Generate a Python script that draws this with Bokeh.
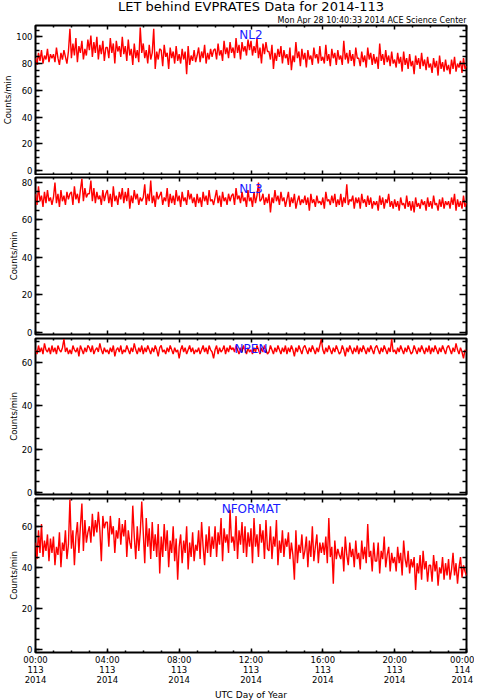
import numpy as np
from bokeh.plotting import figure
from bokeh.models import LinearAxis, FixedTicker, Label, Range1d
from bokeh.layouts import column
from bokeh.embed import file_html
from bokeh.resources import INLINE

title_text = "LET behind EVPRATES Data for 2014-113"
subtitle_text = "Mon Apr 28 10:40:33 2014 ACE Science Center"
y_label = "Counts/min"
x_label = "UTC Day of Year"
panel_names = ["NL2", "NL3", "NPEN", "NFORMAT"]
hour_ticks = [0, 4, 8, 12, 16, 20, 24]
hour_minor_ticks = [h for h in range(25) if h % 4]
hour_tick_labels = ["00:00\n113\n2014", "04:00\n113\n2014", "08:00\n113\n2014",
                    "12:00\n113\n2014", "16:00\n113\n2014", "20:00\n113\n2014",
                    "00:00\n114\n2014"]
count_ticks = [0, 20, 40, 60, 80, 100]
count_minor_ticks = [c for c in range(0, 111, 5) if c % 20]
samples_per_hour = 12

nl2 = [
    84, 79, 88, 82, 90, 80, 86, 83, 91, 81, 87, 84,
    87, 81, 92, 84, 79, 88, 83, 90, 85, 80, 89, 106,
    84, 95, 86, 99, 81, 93, 88, 97, 83, 91, 86, 98,
    90, 101, 85, 96, 88, 100, 83, 94, 87, 97, 82, 92,
    92, 84, 99, 88, 95, 80, 97, 89, 93, 85, 100, 87,
    93, 82, 98, 86, 91, 79, 95, 84, 90, 81, 107, 88,
    95, 84, 90, 80, 94, 83, 88, 106, 76, 89, 83, 91,
    90, 78, 94, 85, 88, 76, 92, 84, 89, 80, 93, 82,
    87, 80, 91, 83, 89, 72, 93, 79, 86, 82, 90, 81,
    86, 92, 81, 89, 84, 94, 80, 88, 83, 91, 85, 90,
    91, 83, 95, 86, 90, 82, 97, 87, 92, 84, 96, 88,
    92, 84, 99, 88, 94, 83, 96, 89, 93, 86, 98, 90,
    97, 86, 93, 88, 99, 84, 92, 80, 95, 87, 96, 89,
    89, 83, 94, 76, 88, 82, 91, 85, 93, 80, 90, 84,
    87, 79, 92, 75, 86, 81, 96, 84, 89, 78, 91, 83,
    88, 77, 90, 83, 86, 79, 92, 84, 87, 80, 93, 82,
    85, 80, 94, 82, 87, 78, 91, 84, 88, 79, 90, 83,
    86, 79, 97, 83, 88, 80, 90, 82, 87, 78, 92, 84,
    84, 78, 89, 81, 86, 77, 92, 83, 88, 79, 87, 80,
    85, 76, 95, 82, 87, 79, 90, 81, 86, 78, 89, 80,
    83, 77, 88, 80, 85, 74, 89, 79, 84, 76, 87, 78,
    82, 72, 86, 79, 84, 76, 88, 78, 83, 75, 85, 77,
    80, 73, 84, 77, 82, 71, 86, 76, 81, 74, 83, 75,
    79, 72, 83, 76, 85, 74, 80, 77, 82, 73, 84, 76,
    78,
]

nl3 = [
    74, 68, 78, 70, 73, 67, 75, 69, 76, 70, 72, 68,
    72, 80, 69, 74, 67, 76, 70, 73, 68, 75, 71, 74,
    75, 68, 78, 71, 74, 69, 76, 82, 70, 77, 72, 74,
    74, 81, 70, 77, 69, 75, 71, 73, 68, 76, 70, 74,
    76, 69, 74, 67, 78, 70, 73, 68, 75, 71, 77, 69,
    75, 70, 77, 66, 73, 69, 76, 71, 74, 68, 72, 70,
    72, 79, 68, 74, 70, 81, 69, 73, 67, 75, 71, 73,
    75, 68, 72, 70, 77, 67, 74, 69, 73, 68, 76, 70,
    73, 67, 75, 70, 72, 68, 76, 71, 74, 69, 72, 67,
    74, 69, 72, 67, 75, 70, 73, 68, 76, 70, 71, 68,
    72, 76, 69, 73, 67, 75, 70, 72, 68, 74, 70, 73,
    74, 68, 77, 71, 73, 69, 75, 70, 72, 67, 76, 70,
    72, 67, 75, 69, 73, 80, 70, 71, 74, 68, 72, 69,
    74, 64, 72, 69, 76, 70, 73, 68, 75, 70, 72, 67,
    71, 75, 67, 72, 69, 74, 66, 70, 73, 68, 71, 69,
    73, 68, 72, 65, 74, 69, 71, 67, 73, 69, 70, 68,
    72, 66, 75, 70, 71, 68, 73, 69, 74, 67, 71, 68,
    74, 67, 72, 69, 79, 68, 71, 70, 73, 66, 72, 69,
    72, 66, 74, 69, 71, 67, 73, 68, 72, 66, 70, 68,
    70, 65, 73, 68, 72, 66, 71, 69, 74, 67, 70, 66,
    71, 67, 70, 65, 72, 68, 69, 66, 73, 67, 70, 65,
    70, 64, 72, 67, 69, 66, 71, 68, 70, 65, 72, 67,
    70, 66, 73, 68, 69, 65, 71, 67, 72, 66, 70, 68,
    70, 66, 72, 68, 74, 65, 71, 67, 70, 66, 73, 67,
    69,
]

npen = [
    66, 64, 68, 65, 67, 64, 69, 66, 65, 67, 64, 68,
    65, 67, 64, 68, 66, 65, 67, 71, 65, 67, 64, 66,
    64, 68, 66, 65, 67, 63, 68, 66, 64, 67, 65, 68,
    67, 65, 68, 64, 66, 67, 65, 69, 66, 64, 67, 65,
    66, 64, 67, 65, 68, 63, 66, 67, 65, 68, 64, 66,
    65, 68, 66, 64, 67, 65, 69, 66, 64, 67, 65, 68,
    64, 67, 65, 68, 66, 64, 67, 65, 68, 66, 63, 67,
    68, 65, 66, 64, 67, 65, 68, 66, 64, 67, 65, 66,
    62, 66, 68, 65, 67, 64, 66, 68, 65, 67, 64, 66,
    65, 67, 64, 66, 68, 65, 67, 64, 68, 66, 65, 62,
    66, 68, 64, 67, 65, 66, 68, 64, 67, 65, 68, 66,
    67, 65, 68, 66, 64, 67, 65, 68, 66, 64, 67, 65,
    66, 64, 67, 65, 68, 66, 64, 67, 65, 68, 66, 64,
    65, 68, 66, 64, 67, 65, 68, 66, 64, 67, 65, 68,
    64, 67, 65, 68, 66, 63, 67, 65, 68, 66, 64, 67,
    68, 66, 64, 67, 65, 68, 66, 64, 67, 65, 68, 71,
    66, 64, 67, 65, 68, 66, 64, 67, 65, 68, 66, 64,
    65, 68, 66, 63, 67, 65, 68, 66, 64, 67, 65, 68,
    64, 67, 65, 68, 66, 64, 67, 65, 68, 66, 64, 67,
    68, 66, 64, 67, 65, 68, 66, 64, 67, 65, 71, 65,
    66, 64, 67, 65, 68, 66, 64, 67, 65, 68, 66, 64,
    65, 68, 66, 64, 67, 65, 68, 66, 64, 67, 65, 68,
    64, 67, 65, 68, 66, 64, 67, 65, 68, 66, 64, 67,
    68, 66, 64, 67, 65, 69, 66, 64, 67, 65, 62, 66,
    65,
]

nformat = [
    52, 44, 58, 47, 61, 45, 53, 48, 56, 43, 54, 47,
    55, 41, 50, 46, 57, 40, 52, 48, 58, 44, 51, 73,
    49, 58, 41, 55, 62, 47, 60, 71, 48, 63, 52, 57,
    60, 52, 66, 55, 63, 57, 67, 58, 43, 65, 59, 62,
    62, 50, 65, 56, 60, 47, 58, 54, 64, 51, 61, 55,
    63, 45, 58, 52, 49, 70, 55, 44, 60, 48, 57, 72,
    57, 42, 64, 50, 59, 44, 62, 48, 56, 45, 61, 37,
    55, 45, 61, 48, 58, 40, 53, 47, 60, 43, 54, 34,
    50, 56, 42, 53, 47, 60, 39, 52, 45, 57, 43, 51,
    48, 58, 44, 62, 50, 41, 56, 47, 60, 45, 55, 49,
    60, 45, 57, 51, 64, 43, 59, 52, 56, 47, 68, 52,
    55, 48, 65, 44, 58, 51, 62, 47, 60, 45, 57, 50,
    59, 42, 64, 50, 56, 45, 61, 52, 58, 44, 63, 49,
    48, 60, 44, 55, 50, 63, 41, 53, 47, 58, 45, 54,
    50, 57, 44, 52, 46, 34, 58, 42, 51, 47, 56, 44,
    48, 55, 40, 53, 45, 60, 43, 50, 56, 42, 52, 47,
    52, 46, 55, 42, 64, 45, 50, 32, 53, 44, 49, 46,
    44, 50, 38, 55, 46, 41, 52, 45, 49, 40, 53, 44,
    47, 39, 53, 44, 50, 42, 61, 45, 48, 38, 52, 43,
    43, 52, 37, 48, 44, 55, 40, 46, 50, 38, 47, 42,
    45, 38, 50, 42, 47, 36, 53, 44, 40, 48, 37, 44,
    40, 45, 29, 42, 37, 46, 34, 48, 39, 43, 33, 41,
    41, 33, 46, 38, 43, 31, 40, 37, 45, 34, 42, 36,
    44, 34, 39, 47, 36, 42, 32, 40, 45, 35, 41, 38,
    36,
]

FONT = "DejaVu Sans"
FRAME_W = 431
BORDER_L = 29
BORDER_R = 13
series = [nl2, nl3, npen, nformat]
# layout / style per panel: (y_start, y_end, frame_height, border_top, border_bottom, label_drop)
panel_styles = [
    (-2.99, 108.45, 149, 1, 1, 9.5),
    (-1.23, 82.68, 157, 2, 3, 11.0),
    (-1.07, 71.25, 156, 1, 3, 10.0),
    (-1.46, 73.48, 154, 1, 40, 10.0),
]


def tick_only_axis(positions, length):
    ax = LinearAxis(ticker=FixedTicker(ticks=[], minor_ticks=positions))
    ax.axis_line_color = None
    ax.major_tick_line_color = None
    ax.minor_tick_in = length
    ax.minor_tick_out = 0
    ax.minor_tick_line_color = "black"
    ax.minor_tick_line_width = 1.5
    ax.major_label_standoff = 0
    ax.axis_label_standoff = 0
    return ax


def labelled_axis(major, minor, major_len, minor_len):
    ax = LinearAxis(ticker=FixedTicker(ticks=major, minor_ticks=minor))
    ax.axis_line_color = None
    ax.major_tick_in = major_len
    ax.major_tick_out = 0
    ax.minor_tick_in = minor_len
    ax.minor_tick_out = 0
    ax.major_tick_line_color = "black"
    ax.minor_tick_line_color = "black"
    ax.major_tick_line_width = 1.5
    ax.minor_tick_line_width = 1.5
    ax.major_label_text_font = FONT
    ax.major_label_text_color = "black"
    ax.axis_label_text_font = FONT
    ax.axis_label_text_font_style = "normal"
    ax.axis_label_text_color = "black"
    return ax


# title strip
head = figure(frame_width=FRAME_W, frame_height=24,
              x_range=Range1d(0, 24), y_range=Range1d(0, 24),
              x_axis_location=None, y_axis_location=None,
              min_border_left=BORDER_L, min_border_right=BORDER_R,
              min_border_top=0, min_border_bottom=0,
              output_backend="svg", toolbar_location=None)
head.grid.visible = False
head.outline_line_color = None
head.add_layout(Label(x=12, y=18.0, text=title_text, text_align="center",
                      text_baseline="alphabetic", text_color="black",
                      text_font=FONT, text_font_size="13px"))
head.add_layout(Label(x=24, y=4.3, text=subtitle_text, text_align="right",
                      text_baseline="alphabetic", text_color="black",
                      text_font=FONT, text_font_size="8px"))

figs = [head]
n_panels = len(series)
for i, (vals, name, st) in enumerate(zip(series, panel_names, panel_styles)):
    y0, y1, fh, bt, bb, drop = st
    t = np.arange(len(vals)) / samples_per_hour
    p = figure(frame_width=FRAME_W, frame_height=fh,
               x_range=Range1d(0, 24), y_range=Range1d(y0, y1),
               x_axis_location=None, y_axis_location=None,
               min_border_left=BORDER_L, min_border_right=BORDER_R,
               min_border_top=bt, min_border_bottom=bb,
               output_backend="svg", toolbar_location=None)
    p.grid.visible = False
    p.outline_line_color = "black"
    p.outline_line_width = 2
    p.background_fill_color = "white"
    p.border_fill_color = "white"

    if i == n_panels - 1:
        xb = labelled_axis(hour_ticks, list(range(25)), 4, 2)
        xb.major_label_overrides = {h: lab for h, lab in zip(hour_ticks, hour_tick_labels)}
        xb.major_label_text_font_size = "8.5px"
        xb.major_label_text_line_height = 1.0
        xb.major_label_standoff = 2
        xb.axis_label = x_label
        xb.axis_label_text_font_size = "9px"
        xb.axis_label_standoff = 2
        p.add_layout(xb, "below")
    else:
        p.add_layout(tick_only_axis(hour_ticks, 4), "below")
        p.add_layout(tick_only_axis(hour_minor_ticks, 2), "below")

    p.add_layout(tick_only_axis(hour_ticks, 4), "above")
    p.add_layout(tick_only_axis(hour_minor_ticks, 2), "above")

    yl = labelled_axis(count_ticks, list(range(0, 111, 5)), 7, 4)
    yl.major_label_text_font_size = "8.5px"
    yl.major_label_standoff = 3
    yl.axis_label = y_label
    yl.axis_label_text_font_size = "8.5px"
    yl.axis_label_standoff = 0
    p.add_layout(yl, "left")

    p.add_layout(tick_only_axis(count_ticks, 7), "right")
    p.add_layout(tick_only_axis(count_minor_ticks, 4), "right")

    p.line(t, vals, line_color="red", line_width=1.4)

    p.add_layout(Label(x=12, y=fh - drop, x_units="data", y_units="screen",
                       text=name, text_align="center", text_baseline="alphabetic",
                       text_color="#1a1aff", text_font=FONT, text_font_size="12px"))
    figs.append(p)

layout = column(*figs, spacing=0)
open("out.html", "w").write(file_html(layout, INLINE))
